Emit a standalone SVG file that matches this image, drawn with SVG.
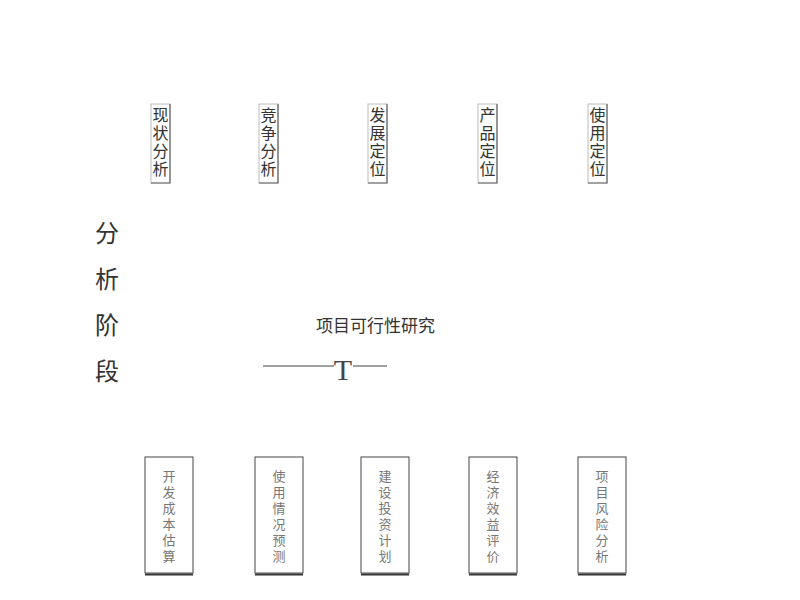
<svg xmlns="http://www.w3.org/2000/svg" width="800" height="600" viewBox="0 0 800 600">
<style>
.tb{fill:none;stroke:#bbb;stroke-width:1}
.tbs{fill:none;stroke:#666;stroke-width:1.2}
.v{writing-mode:tb;writing-mode:vertical-rl;font-family:"Noto Sans CJK SC","Noto Sans",sans-serif}
.tt{font-size:16px;letter-spacing:2px;fill:#333}
.bb{fill:none;stroke:#444;stroke-width:1}
.bt{font-size:13px;letter-spacing:3px;fill:#777}
.lt{font-size:24px;letter-spacing:22px;fill:#333}
.ti{font-family:"Noto Sans CJK SC","Noto Sans",sans-serif;font-size:17px;fill:#333}
</style>
<rect width="800" height="600" fill="#fff"/>
<g id="top1"><rect class="tb" x="151" y="104" width="19" height="79"/><path class="tbs" d="M170,104 V183 H151"/>
<text class="v tt" x="160.5" y="107">现状分析</text></g>
<g id="top2"><rect class="tb" x="259" y="104" width="19" height="79"/><path class="tbs" d="M278,104 V183 H259"/>
<text class="v tt" x="268.5" y="107">竞争分析</text></g>
<g id="top3"><rect class="tb" x="368" y="104" width="19" height="79"/><path class="tbs" d="M387,104 V183 H368"/>
<text class="v tt" x="377.5" y="107">发展定位</text></g>
<g id="top4"><rect class="tb" x="478" y="104" width="19" height="79"/><path class="tbs" d="M497,104 V183 H478"/>
<text class="v tt" x="487.5" y="107">产品定位</text></g>
<g id="top5"><rect class="tb" x="588" y="104" width="19" height="79"/><path class="tbs" d="M607,104 V183 H588"/>
<text class="v tt" x="597.5" y="107">使用定位</text></g>
<g id="stage"><text class="v lt" x="107" y="221">分析阶段</text></g>
<g id="title"><text class="ti" x="316" y="332">项目可行性研究</text></g>
<g id="connectors"><line x1="263" y1="366" x2="334" y2="366" stroke="#444" stroke-width="1.2"/><line x1="353" y1="366" x2="387" y2="366" stroke="#444" stroke-width="1.2"/>
<text x="343" y="380" font-family="Liberation Serif,serif" font-size="30" fill="#444" text-anchor="middle">T</text></g>
<g id="b1"><rect class="bb" x="145" y="457" width="48" height="116"/><line x1="145" y1="574.5" x2="193" y2="574.5" stroke="#333" stroke-width="2"/>
<text class="v bt" x="169" y="470">开发成本估算</text></g>
<g id="b2"><rect class="bb" x="255" y="457" width="48" height="116"/><line x1="255" y1="574.5" x2="303" y2="574.5" stroke="#333" stroke-width="2"/>
<text class="v bt" x="279" y="470">使用情况预测</text></g>
<g id="b3"><rect class="bb" x="361" y="457" width="48" height="116"/><line x1="361" y1="574.5" x2="409" y2="574.5" stroke="#333" stroke-width="2"/>
<text class="v bt" x="385" y="470">建设投资计划</text></g>
<g id="b4"><rect class="bb" x="469" y="457" width="48" height="116"/><line x1="469" y1="574.5" x2="517" y2="574.5" stroke="#333" stroke-width="2"/>
<text class="v bt" x="493" y="470">经济效益评价</text></g>
<g id="b5"><rect class="bb" x="578" y="457" width="48" height="116"/><line x1="578" y1="574.5" x2="626" y2="574.5" stroke="#333" stroke-width="2"/>
<text class="v bt" x="602" y="470">项目风险分析</text></g>
</svg>
